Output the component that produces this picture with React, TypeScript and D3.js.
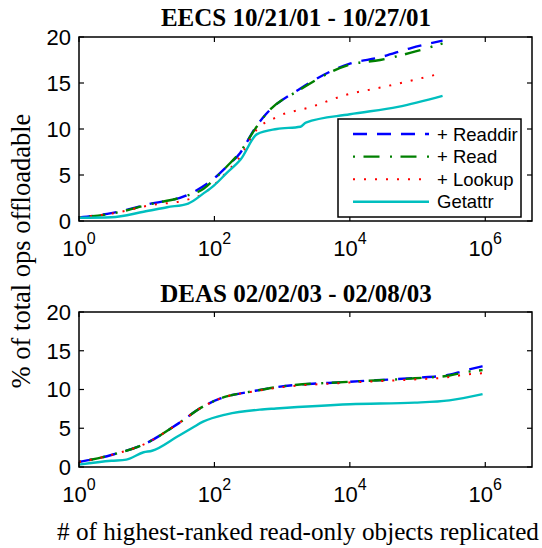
import React from "react";
import * as d3 from "d3";

// ---------- data ----------
const SERIES_NAMES = ["+ Readdir", "+ Read", "+ Lookup", "Getattr"];
const Y_TICKS = [0, 5, 10, 15, 20];
const X_TICK_EXPONENTS = [0, 2, 4, 6];
const TITLES = ["EECS 10/21/01 - 10/27/01", "DEAS 02/02/03 - 02/08/03"];
const Y_LABEL = "% of total ops offloadable";
const X_LABEL = "# of highest-ranked read-only objects replicated";

// EECS (top)
const EECS_READDIR: [number, number][] = [
  [1, 0.4], [3, 0.85], [11, 1.85], [39, 2.8], [98, 4.6], [151, 5.9], [240, 7.4],
  [407, 10.2], [575, 11.6], [1862, 14.4], [10000, 17.1], [28000, 17.8], [80000, 18.8], [234000, 19.6],
];
const EECS_READ: [number, number][] = [
  [1, 0.4], [3, 0.8], [11, 1.8], [39, 2.75], [69, 3.5], [98, 4.5], [151, 5.9], [240, 7.5],
  [407, 10.1], [575, 11.6], [1862, 14.3], [10000, 17.0], [28000, 17.5], [80000, 18.3], [234000, 19.3],
];
const EECS_LOOKUP: [number, number][] = [
  [1, 0.4], [3, 0.8], [11, 1.7], [39, 2.3], [69, 3.0], [98, 3.9], [151, 5.3], [240, 7.0],
  [407, 9.8], [832, 11.3], [2692, 12.4], [8710, 13.7], [28184, 14.5], [186000, 15.9],
];
const EECS_GETATTR: [number, number][] = [
  [1, 0.35], [3, 0.4], [9, 1.0], [20, 1.5], [41, 1.9], [69, 3.0], [100, 3.9], [151, 5.2],
  [245, 6.7], [427, 9.45], [832, 10.0], [1862, 10.25], [2239, 10.7], [10000, 11.6], [51286, 12.4], [234000, 13.6],
];

// DEAS (bottom)
const DEAS_READDIR: [number, number][] = [
  [1, 0.65], [3, 1.55], [10, 3.1], [28, 5.5], [68, 7.8], [123, 8.85], [151, 9.1], [380, 9.8],
  [812, 10.3], [10000, 11.0], [91000, 11.5], [295000, 11.9], [478000, 12.4], [912000, 13.0],
];
const DEAS_READ: [number, number][] = [
  [1, 0.65], [3, 1.55], [10, 3.1], [28, 5.5], [68, 7.8], [123, 8.85], [151, 9.1], [380, 9.8],
  [812, 10.3], [10000, 11.0], [91000, 11.45], [295000, 11.8], [478000, 12.2], [912000, 12.5],
];
const DEAS_LOOKUP: [number, number][] = [
  [1, 0.65], [3, 1.55], [10, 3.1], [28, 5.5], [68, 7.8], [123, 8.85], [151, 9.1], [380, 9.75],
  [812, 10.2], [10000, 10.9], [91000, 11.3], [295000, 11.6], [478000, 11.9], [912000, 12.1],
];
const DEAS_GETATTR: [number, number][] = [
  [1, 0.3], [3, 0.8], [5, 0.95], [9, 1.9], [12, 2.1], [28, 3.9], [48, 5.1], [68, 5.85],
  [151, 6.8], [468, 7.4], [812, 7.55], [10000, 8.1], [91000, 8.3], [295000, 8.6], [912000, 9.4],
];

const EECS_SERIES = [EECS_READDIR, EECS_READ, EECS_LOOKUP, EECS_GETATTR];
const DEAS_SERIES = [DEAS_READDIR, DEAS_READ, DEAS_LOOKUP, DEAS_GETATTR];

// ---------- styles ----------
const STYLES = [
  { color: "#0000ff", dash: "14,10", width: 2.4 },
  { color: "#008000", dash: "2,8.5,16,10.5", width: 2.4 },
  { color: "#ff0000", dash: "2,9", width: 2 },
  { color: "#00bfbf", dash: "", width: 2.4 },
];

const SANS = "Liberation Sans, Arial, Helvetica, sans-serif";
const SERIF = "Liberation Serif, DejaVu Serif, Times New Roman, serif";

const X_LEFT = 79;
const X_RIGHT = 532;
const X_MAX = Math.pow(10, 6.69);

function Panel({ top, bottom, title, titleY, series, legend }: any) {
  const x = d3.scaleLog().domain([1, X_MAX]).range([X_LEFT, X_RIGHT]);
  const y = d3.scaleLinear().domain([0, 20]).range([bottom, top]);
  const line = d3
    .line<[number, number]>()
    .x((d) => x(d[0]))
    .y((d) => y(d[1]))
    .curve(d3.curveMonotoneX);
  const tickLen = 5;
  return (
    <g>
      <text x={296} y={titleY} textAnchor="middle" fontFamily={SERIF} fontWeight="bold" fontSize={25}>
        {title}
      </text>
      <rect x={X_LEFT} y={top} width={X_RIGHT - X_LEFT} height={bottom - top} fill="white" />
      {series.map((s: [number, number][], i: number) => (
        <path
          key={i}
          d={line(s) || ""}
          fill="none"
          stroke={STYLES[i].color}
          strokeWidth={STYLES[i].width}
          strokeDasharray={STYLES[i].dash || undefined}
        />
      ))}
      {/* y ticks */}
      {Y_TICKS.map((t) => (
        <g key={"y" + t}>
          <line x1={X_LEFT} x2={X_LEFT + tickLen} y1={y(t)} y2={y(t)} stroke="black" strokeWidth={1.2} />
          <line x1={X_RIGHT} x2={X_RIGHT - tickLen} y1={y(t)} y2={y(t)} stroke="black" strokeWidth={1.2} />
          <text x={71} y={y(t)} dy="0.36em" textAnchor="end" fontFamily={SANS} fontSize={22}>
            {t}
          </text>
        </g>
      ))}
      {/* x ticks */}
      {X_TICK_EXPONENTS.map((e) => {
        const xv = x(Math.pow(10, e));
        return (
          <g key={"x" + e}>
            <line x1={xv} x2={xv} y1={bottom} y2={bottom - tickLen} stroke="black" strokeWidth={1.2} />
            <line x1={xv} x2={xv} y1={top} y2={top + tickLen} stroke="black" strokeWidth={1.2} />
            <text x={xv} y={bottom + 35} textAnchor="middle" fontFamily={SANS} fontSize={22}>
              10
              <tspan dy={-12} fontSize={16}>
                {e}
              </tspan>
            </text>
          </g>
        );
      })}
      <rect
        x={X_LEFT}
        y={top}
        width={X_RIGHT - X_LEFT}
        height={bottom - top}
        fill="none"
        stroke="black"
        strokeWidth={1.5}
      />
      {legend && (
        <g>
          <rect x={338} y={119} width={183} height={98} fill="white" stroke="black" strokeWidth={1.5} />
          {SERIES_NAMES.map((name, i) => {
            const ly = 134 + i * 22.6;
            return (
              <g key={name}>
                <line
                  x1={353}
                  x2={429}
                  y1={ly}
                  y2={ly}
                  stroke={STYLES[i].color}
                  strokeWidth={STYLES[i].width}
                  strokeDasharray={STYLES[i].dash || undefined}
                />
                <text x={437} y={ly} dy="0.36em" fontFamily={SANS} fontSize={18.5}>
                  {name}
                </text>
              </g>
            );
          })}
        </g>
      )}
    </g>
  );
}

export default function App() {
  return (
    <svg
      width={542}
      height={548}
      style={{ position: "absolute", left: 0, top: 0, background: "white" }}
    >
      <rect x={0} y={0} width={542} height={548} fill="white" />
      <Panel top={37} bottom={221} title={TITLES[0]} titleY={26} series={EECS_SERIES} legend />
      <Panel top={312} bottom={467} title={TITLES[1]} titleY={302} series={DEAS_SERIES} legend={false} />
      <text
        transform="translate(30,251) rotate(-90)"
        textAnchor="middle"
        fontFamily={SERIF}
        fontSize={26.5}
      >
        {Y_LABEL}
      </text>
      <text x={298} y={540} textAnchor="middle" fontFamily={SERIF} fontSize={25.2}>
        {X_LABEL}
      </text>
    </svg>
  );
}
